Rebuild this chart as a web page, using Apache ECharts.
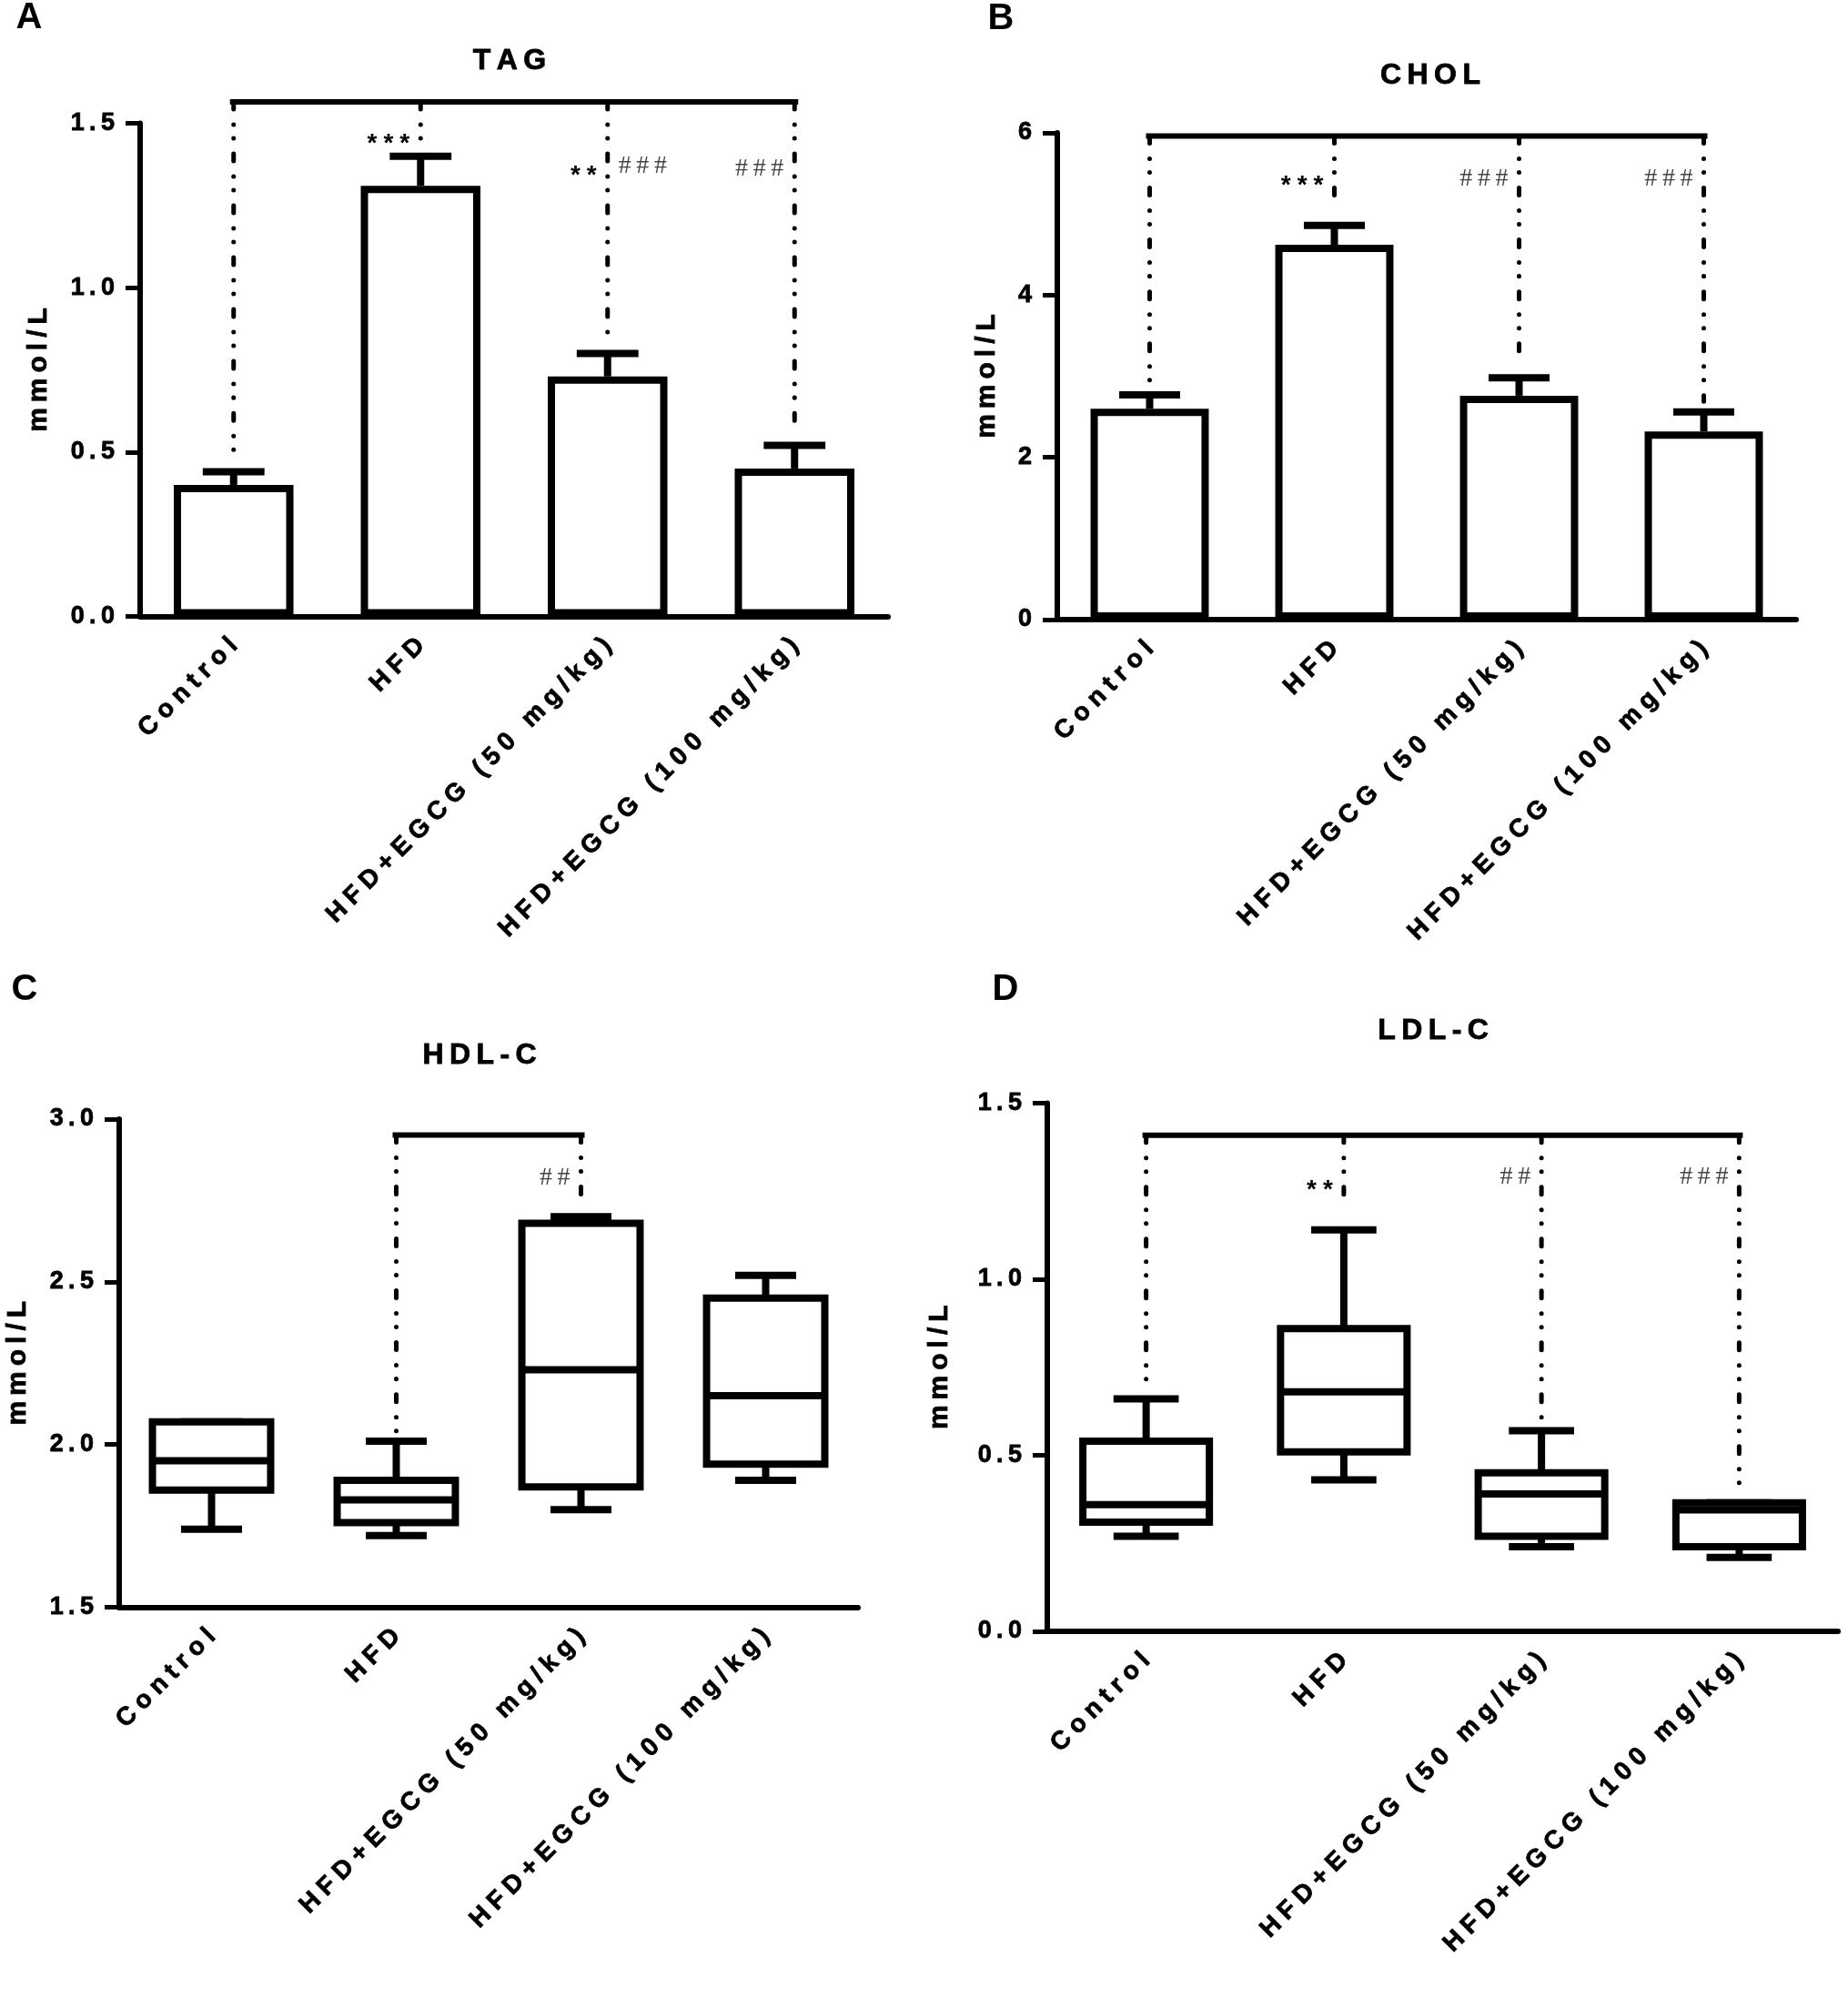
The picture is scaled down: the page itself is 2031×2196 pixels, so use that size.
<!DOCTYPE html>
<html>
<head>
<meta charset="utf-8">
<script src="https://cdn.jsdelivr.net/npm/echarts@6/dist/echarts.min.js"></script>
<style>
  html, body { margin: 0; padding: 0; background: #fff; }
  #container { width: 2031px; height: 2196px; }
</style>
</head>
<body>
<div id="container"></div>
<script>
// groups on every x axis
const groups = ['Control', 'HFD', 'HFD+EGCG (50 mg/kg)', 'HFD+EGCG (100 mg/kg)'];

// A - TAG (mean, top of error bar)
const tagMean = [0.40, 1.31, 0.73, 0.45];
const tagUpper = [0.44, 1.40, 0.80, 0.52];
const tagBracket = 1.565;
const tagDropCat = [0, 1, 2, 3];
const tagDrop = [0.47, 1.44, 0.86, 0.55];
const tagNoteCat = [1, 2, 2, 3];
const tagNoteY = [1.455, 1.36, 1.37, 1.36];
const tagNoteText = ['***', '**', '###', '###'];

// B - CHOL
const cholMean = [2.60, 4.62, 2.76, 2.32];
const cholUpper = [2.77, 4.86, 2.98, 2.56];
const cholBracket = 5.96;
const cholDropCat = [0, 1, 2, 3];
const cholDrop = [2.87, 5.12, 3.13, 2.69];
const cholNoteCat = [1, 2, 3];
const cholNoteY = [5.43, 5.43, 5.43];
const cholNoteText = ['***', '###', '###'];

// C - HDL-C boxes: min, q1, median, q3, max
const hdlBox = [
  [1.74, 1.86, 1.95, 2.07, 2.07],
  [1.72, 1.76, 1.83, 1.89, 2.01],
  [1.80, 1.87, 2.23, 2.68, 2.70],
  [1.89, 1.94, 2.15, 2.45, 2.52]
];
const hdlBracket = 2.951;
const hdlDropCat = [1, 2];
const hdlDrop = [2.03, 2.74];
const hdlNoteCat = [2];
const hdlNoteY = [2.82];
const hdlNoteText = ['##'];

// D - LDL-C boxes
const ldlBox = [
  [0.27, 0.31, 0.36, 0.54, 0.66],
  [0.43, 0.51, 0.68, 0.86, 1.14],
  [0.24, 0.27, 0.39, 0.45, 0.57],
  [0.21, 0.24, 0.345, 0.365, 0.365]
];
const ldlBracket = 1.409;
const ldlDropCat = [0, 1, 2, 3];
const ldlDrop = [0.68, 1.206, 0.60, 0.41];
const ldlNoteCat = [1, 2, 3];
const ldlNoteY = [1.27, 1.29, 1.29];
const ldlNoteText = ['**', '##', '###'];

const FONT = '"Liberation Sans", Arial, sans-serif';
const spaced = (s, sp) => String(s).split('').join(sp);
const MID = '\u2005';
const THIN = '\u2009';
// a thin outline makes the bold text a little heavier, as in the figure
const HEAVY = { textBorderColor: '#000', textBorderWidth: 0.8 };

const container = document.getElementById('container');
const chart = echarts.init(container, null, { renderer: 'canvas' });

const grids = [
  { left: 154, top: 135.5, width: 822, height: 542 },
  { left: 1162, top: 146, width: 812, height: 535 },
  { left: 131, top: 1230, width: 812, height: 536.5 },
  { left: 1151, top: 1212.5, width: 869, height: 580.5 }
];
const yRanges = [
  { min: 0, max: 1.5, interval: 0.5, dec: 1, gap: 96 },
  { min: 0, max: 6, interval: 2, dec: 0, gap: 62 },
  { min: 1.5, max: 3.0, interval: 0.5, dec: 1, gap: 96 },
  { min: 0, max: 1.5, interval: 0.5, dec: 1, gap: 103 }
];

const xAxes = grids.map((g, i) => ({
  type: 'category',
  gridIndex: i,
  data: groups,
  z: 5,
  axisLine: { lineStyle: { color: '#000', width: 6 } },
  axisTick: { alignWithLabel: true, length: 13, lineStyle: { color: '#000', width: 5 } },
  axisLabel: Object.assign({
    interval: 0, rotate: 45, margin: 28, color: '#000',
    fontFamily: FONT, fontWeight: 'bold', fontSize: 28,
    formatter: v => spaced(v, MID)
  }, HEAVY)
}));

const yAxes = yRanges.map((r, i) => ({
  type: 'value',
  gridIndex: i,
  min: r.min, max: r.max, interval: r.interval,
  name: spaced('mmol/L', THIN),
  nameLocation: 'middle',
  nameGap: r.gap,
  nameTextStyle: Object.assign({ color: '#000', fontFamily: FONT, fontWeight: 'bold', fontSize: 30 }, HEAVY),
  splitLine: { show: false },
  axisLine: { show: true, lineStyle: { color: '#000', width: 6 } },
  axisTick: { show: true, length: 16, lineStyle: { color: '#000', width: 5 } },
  axisLabel: Object.assign({
    margin: 28, color: '#000', fontFamily: FONT, fontWeight: 'bold', fontSize: 27,
    formatter: v => spaced(v.toFixed(r.dec), THIN)
  }, HEAVY)
}));

const LINE = { stroke: '#000', lineWidth: 8 };

function errRender(params, api) {
  const c = api.coord([api.value(0), api.value(1)]);
  const t = api.coord([api.value(0), api.value(2)]);
  const hw = api.size([1, 0])[0] * 0.165;
  return {
    type: 'group',
    children: [
      { type: 'line', shape: { x1: c[0], y1: c[1], x2: t[0], y2: t[1] }, style: LINE },
      { type: 'line', shape: { x1: t[0] - hw, y1: t[1], x2: t[0] + hw, y2: t[1] }, style: LINE }
    ]
  };
}

function boxRender(params, api) {
  const cat = api.value(0);
  const x = api.coord([cat, 0])[0];
  const y = v => api.coord([cat, v])[1];
  const band = api.size([1, 0])[0];
  const half = band * 0.32;
  const cap = band * 0.165;
  const mn = y(api.value(1)), q1 = y(api.value(2)), md = y(api.value(3)),
        q3 = y(api.value(4)), mx = y(api.value(5));
  return {
    type: 'group',
    children: [
      { type: 'line', shape: { x1: x, y1: q3, x2: x, y2: mx }, style: LINE },
      { type: 'line', shape: { x1: x, y1: q1, x2: x, y2: mn }, style: LINE },
      { type: 'line', shape: { x1: x - cap, y1: mx, x2: x + cap, y2: mx }, style: LINE },
      { type: 'line', shape: { x1: x - cap, y1: mn, x2: x + cap, y2: mn }, style: LINE },
      { type: 'rect', shape: { x: x - half, y: q3, width: half * 2, height: q1 - q3 },
        style: { fill: '#fff', stroke: '#000', lineWidth: 8 } },
      { type: 'line', shape: { x1: x - half, y1: md, x2: x + half, y2: md }, style: LINE }
    ]
  };
}

function dropRender(level, cats) {
  const first = Math.min.apply(null, cats), last = Math.max.apply(null, cats);
  return function (params, api) {
    const cat = api.value(0);
    const top = api.coord([cat, level]);
    const bot = api.coord([cat, api.value(1)]);
    const children = [{
      type: 'line',
      shape: { x1: top[0], y1: top[1], x2: bot[0], y2: bot[1] },
      style: { stroke: '#000', lineWidth: 5, lineCap: 'round', lineDash: [8, 17, 0.01, 15, 0.01, 17] }
    }];
    if (params.dataIndex === 0) {
      const a = api.coord([first, level]);
      const b = api.coord([last, level]);
      children.push({
        type: 'line',
        shape: { x1: a[0] - 4, y1: a[1], x2: b[0] + 4, y2: b[1] },
        style: { stroke: '#000', lineWidth: 6 }
      });
    }
    return { type: 'group', children };
  };
}

function noteRender(cats, texts) {
  return function (params, api) {
    const cat = api.value(0);
    const p = api.coord([cat, api.value(1)]);
    const text = texts[params.dataIndex];
    const isHash = text[0] === '#';
    const right = isHash && texts.some((t, i) => t[0] === '*' && cats[i] === cat);
    return {
      type: 'text',
      x: p[0] + (right ? 12 : -12),
      y: p[1] + (isHash ? 0 : 7),
      style: isHash ? {
        text: spaced(text, THIN), fill: '#444',
        font: 'normal 28px "Liberation Serif", "Times New Roman", serif',
        align: right ? 'left' : 'right', verticalAlign: 'middle'
      } : {
        text: spaced(text, MID), fill: '#000',
        font: 'bold 28px ' + FONT,
        align: 'right', verticalAlign: 'middle'
      }
    };
  };
}

function zip(a, b) { return a.map((v, i) => [v, b[i]]); }

function barPanel(i, mean, upper) {
  return [
    {
      type: 'bar', xAxisIndex: i, yAxisIndex: i, data: mean, barWidth: '64%',
      itemStyle: { color: '#fff', borderColor: '#000', borderWidth: 8 }, z: 2
    },
    {
      type: 'custom', xAxisIndex: i, yAxisIndex: i, renderItem: errRender, z: 3,
      encode: { x: 0, y: [1, 2] },
      data: mean.map((m, k) => [k, m, upper[k]])
    }
  ];
}

function boxPanel(i, boxes) {
  return [{
    type: 'custom', xAxisIndex: i, yAxisIndex: i, renderItem: boxRender, z: 3,
    encode: { x: 0, y: [1, 2, 3, 4, 5] },
    data: boxes.map((b, k) => [k].concat(b))
  }];
}

function statPanel(i, level, dropCat, drop, noteCat, noteY, noteText) {
  return [
    {
      type: 'custom', xAxisIndex: i, yAxisIndex: i, renderItem: dropRender(level, dropCat),
      z: 4, clip: false, encode: { x: 0, y: 1 }, data: zip(dropCat, drop)
    },
    {
      type: 'custom', xAxisIndex: i, yAxisIndex: i, renderItem: noteRender(noteCat, noteText),
      z: 5, clip: false, encode: { x: 0, y: 1 }, data: zip(noteCat, noteY)
    }
  ];
}

const titles = [
  { text: 'TAG', x: 560, y: 67 },
  { text: 'CHOL', x: 1572, y: 83 },
  { text: 'HDL-C', x: 527, y: 1160 },
  { text: 'LDL-C', x: 1575, y: 1133 }
];
const letters = [
  { text: 'A', x: 32, y: 20 },
  { text: 'B', x: 1100, y: 21 },
  { text: 'C', x: 27, y: 1088 },
  { text: 'D', x: 1105, y: 1088 }
];

const graphic = titles.map(t => ({
  type: 'text', x: t.x, y: t.y,
  style: Object.assign({ text: spaced(t.text, THIN), font: 'bold 32px ' + FONT, fill: '#000', align: 'center', verticalAlign: 'middle' },
    { stroke: '#000', lineWidth: 0.8 })
})).concat(letters.map(t => ({
  type: 'text', x: t.x, y: t.y,
  style: { text: t.text, font: 'bold 40px ' + FONT, fill: '#000', align: 'center', verticalAlign: 'middle' }
})));

const option = {
  animation: false,
  backgroundColor: '#fff',
  grid: grids,
  xAxis: xAxes,
  yAxis: yAxes,
  graphic: graphic,
  series: [].concat(
    barPanel(0, tagMean, tagUpper),
    statPanel(0, tagBracket, tagDropCat, tagDrop, tagNoteCat, tagNoteY, tagNoteText),
    barPanel(1, cholMean, cholUpper),
    statPanel(1, cholBracket, cholDropCat, cholDrop, cholNoteCat, cholNoteY, cholNoteText),
    boxPanel(2, hdlBox),
    statPanel(2, hdlBracket, hdlDropCat, hdlDrop, hdlNoteCat, hdlNoteY, hdlNoteText),
    boxPanel(3, ldlBox),
    statPanel(3, ldlBracket, ldlDropCat, ldlDrop, ldlNoteCat, ldlNoteY, ldlNoteText)
  )
};

chart.setOption(option);
</script>
</body>
</html>
